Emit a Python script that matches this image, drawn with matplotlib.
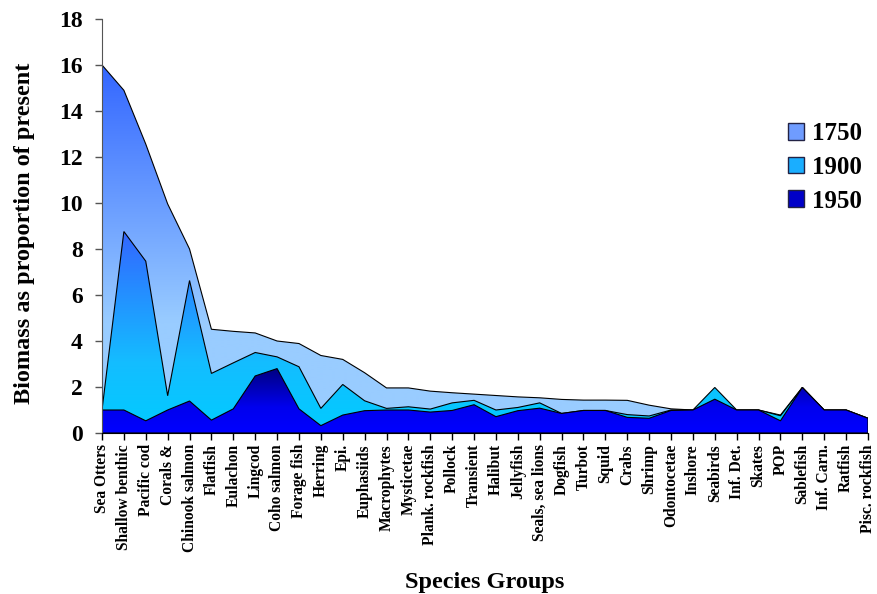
import numpy as np
import matplotlib
matplotlib.use("Agg")
import matplotlib.pyplot as plt
from matplotlib.colors import LinearSegmentedColormap
from matplotlib.patches import Polygon, Patch

plt.rcParams['font.family'] = ['Liberation Serif', 'DejaVu Serif']
plt.rcParams['font.weight'] = 'bold'

# species groups along the x axis
groups = ['Sea Otters', 'Shallow benthic', 'Pacific cod', 'Corals &', 'Chinook salmon',
          'Flatfish', 'Eulachon', 'Lingcod', 'Coho salmon', 'Forage fish', 'Herring',
          'Epi.', 'Euphasiids', 'Macrophytes', 'Mysticetae', 'Plank. rockfish', 'Pollock',
          'Transient', 'Halibut', 'Jellyfish', 'Seals, sea lions', 'Dogfish', 'Turbot',
          'Squid', 'Crabs', 'Shrimp', 'Odontocetae', 'Inshore', 'Seabirds', 'Inf. Det.',
          'Skates', 'POP', 'Sablefish', 'Inf. Carn.', 'Ratfish', 'Pisc. rockfish']

# biomass relative to present
b1750 = [16.0, 14.9, 12.56, 9.96, 8.0, 4.51, 4.42, 4.35, 4.0, 3.89, 3.37, 3.2,
         2.62, 1.96, 1.96, 1.82, 1.75, 1.69, 1.63, 1.57, 1.53, 1.46, 1.43, 1.43,
         1.42, 1.21, 1.05, 1.0, 1.4, 1.0, 1.0, 0.78, 1.98, 1.0, 1.0, 0.64]
b1900 = [1.0, 8.76, 7.47, 1.62, 6.63, 2.59, 3.05, 3.5, 3.31, 2.88, 1.07, 2.11,
         1.4, 1.07, 1.14, 1.04, 1.31, 1.42, 1.0, 1.11, 1.31, 0.85, 0.98, 0.98,
         0.8, 0.74, 1.0, 1.0, 1.98, 1.0, 1.0, 0.75, 1.98, 1.0, 1.0, 0.64]
b1950 = [1.0, 1.0, 0.53, 1.0, 1.39, 0.56, 1.05, 2.48, 2.8, 1.05, 0.32, 0.78,
         0.97, 1.0, 1.0, 0.91, 0.98, 1.23, 0.71, 0.97, 1.08, 0.85, 0.98, 0.98,
         0.68, 0.64, 0.98, 1.0, 1.47, 1.0, 1.0, 0.53, 1.98, 1.0, 1.0, 0.64]

years = ['1750', '1900', '1950']
cmaps = [
    LinearSegmentedColormap.from_list('c1750', [(0, '#99CCFF'), (0.3, '#99CCFF'), (1, '#3366FF')]),
    LinearSegmentedColormap.from_list('c1900', [(0, '#00CCFF'), (0.35, '#14BDFF'), (1, '#3366FF')]),
    LinearSegmentedColormap.from_list('c1950', [(0, '#0000FF'), (0.4, '#0000EE'), (1, '#000080')]),
]
legend_cols = ['#6F9CFF', '#1AAEFF', '#0000C8']


def grad_area(ax, x, y, cmap, z):
    xy = np.vstack([np.column_stack([x, y]), [[x[-1], 0], [x[0], 0]]])
    poly = Polygon(xy, closed=True, facecolor='none', edgecolor='black', lw=0.8, zorder=z + 0.5)
    ax.add_patch(poly)
    grad = np.linspace(0, 1, 256).reshape(-1, 1)
    im = ax.imshow(grad, extent=[x[0], x[-1], 0, max(y)], origin='lower', aspect='auto',
                   cmap=cmap, zorder=z, interpolation='bilinear')
    im.set_clip_path(poly)


fig = plt.figure(figsize=(8.78, 5.94), dpi=100)
ax = fig.add_axes([102 / 878, 1 - 433 / 594, 766 / 878, 414 / 594])

x = np.arange(len(groups))
for i, (vals, cm) in enumerate(zip([b1750, b1900, b1950], cmaps)):
    grad_area(ax, x, np.array(vals), cm, 2 + i)

ax.set_xlim(0, len(groups) - 1)
ax.set_ylim(0, 18)
ax.set_yticks(range(0, 19, 2))
ax.set_xticks(x)
ax.set_xticklabels(groups, rotation=90, fontsize=11.2, fontweight='bold')
ax.tick_params(axis='y', labelsize=17, length=5, width=1, pad=9, color='#555555')
ax.tick_params(axis='x', length=5, width=1, pad=3)
for s in ['top', 'right']:
    ax.spines[s].set_visible(False)
ax.spines['left'].set_color('#555555')
ax.spines['left'].set_zorder(10)
ax.spines['bottom'].set_zorder(10)

ax.set_ylabel('Biomass as proportion of present', fontsize=17.5, fontweight='bold')
ax.yaxis.set_label_coords(-0.087, 0.483)
ax.set_xlabel('Species Groups', fontsize=17.5, fontweight='bold')
ax.xaxis.set_label_coords(0.5, -0.336)

handles = [Patch(facecolor=c, edgecolor='#222244', lw=1) for c in legend_cols]
ax.legend(handles, years, loc='upper left', bbox_to_anchor=(788 / 878, 1 - 122 / 594),
          bbox_transform=fig.transFigure, frameon=False, handlelength=0.65,
          handleheight=0.65, handletextpad=0.3, labelspacing=0.43, borderpad=0,
          borderaxespad=0, prop={'weight': 'bold', 'size': 18})

fig.savefig('out.png', dpi=100)
